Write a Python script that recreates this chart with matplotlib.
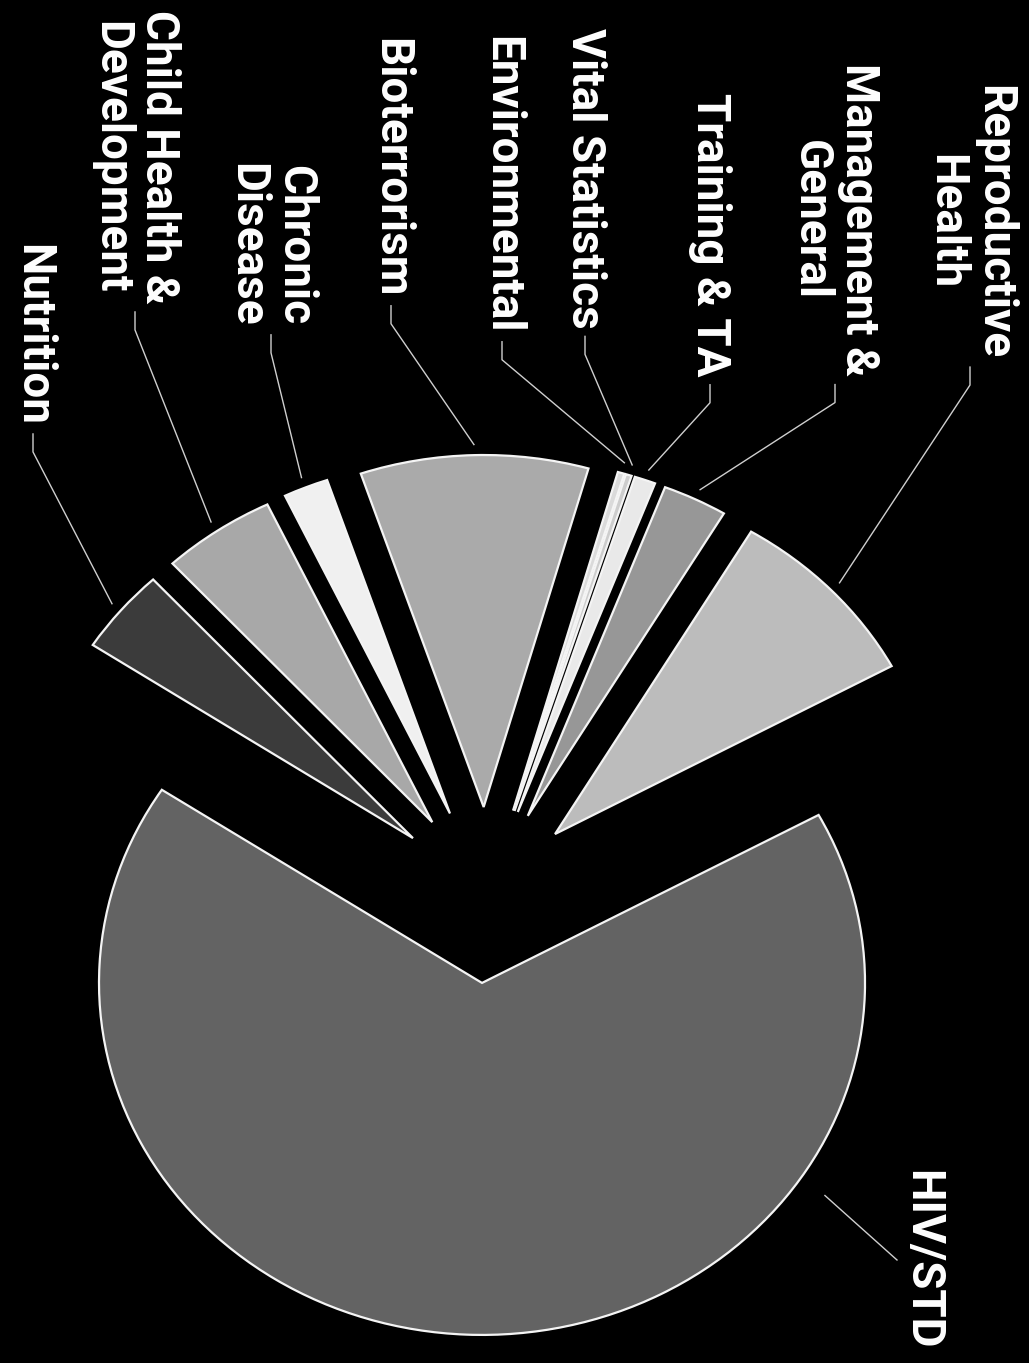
import numpy as np
import matplotlib.pyplot as plt

# Program areas, counter-clockwise from the start angle
programs = ["Reproductive\nHealth", "Management &\nGeneral", "Training & TA",
            "Vital Statistics", "Environmental", "Bioterrorism",
            "Chronic\nDisease", "Child Health &\nDevelopment", "Nutrition", "HIV/STD"]
shares = [8.53, 2.72, 0.89, 0.25, 0.28, 9.61, 1.89, 4.78, 3.89, 67.16]
shades = ["#bcbcbc", "#979797", "#e9e9e9", "#cdcdcd", "#dadada",
          "#aaaaaa", "#f0f0f0", "#a8a8a8", "#3b3b3b", "#636363"]

# Centre of each label block, in pixels from the top-left corner
label_px = [(970, 222), (835, 220), (710, 235), (585, 178), (502, 185),
            (391, 168), (271, 245), (135, 157), (33, 335), (922, 1260)]

W, H = 1029, 1363
CX, CY = 486, 895          # pie centre in pixels
SX, SY = 383, 352          # pixels per unit radius (the scan is squashed vertically)


def px(x, y):
    return (x - CX) / SX, (CY - y) / SY


fig = plt.figure(figsize=(W / 100, H / 100), dpi=100, facecolor="black")
ax = fig.add_axes([0, 0, 1, 1])
ax.set_facecolor("black")

wedges, _ = ax.pie(shares, explode=[0.25] * len(shares), startangle=28.5,
                   colors=shades,
                   wedgeprops=dict(edgecolor="#f4f4f4", linewidth=1.6))
ax.set_aspect("auto")
ax.set_xlim(px(0, 0)[0], px(W, 0)[0])
ax.set_ylim(px(0, H)[1], px(0, 0)[1])
ax.axis("off")

font = dict(family=["Roboto", "DejaVu Sans"], weight="bold",
            size=33, color="white")

labels = []
for name, (lx, ly) in zip(programs, label_px):
    t = ax.text(*px(lx, ly), name, rotation=270, ha="center", va="center",
                multialignment="center", linespacing=1.1, **font)
    labels.append(t)

fig.canvas.draw()
to_data = ax.transData.inverted()

for w, t in zip(wedges, labels):
    cx, cy = w.center
    bb = t.get_window_extent()
    if t.get_text() == "HIV/STD":
        # big slice: leader runs from the lower-right arc to the side of the label
        ang = np.deg2rad(-34)
        ex, ey = cx + 1.08 * np.cos(ang), cy + 1.08 * np.sin(ang)
        sx, sy = to_data.transform((bb.x0 - 3, (bb.y0 + bb.y1) / 2))
        ax.plot([sx, ex], [sy, ey], color="#cfcfcf", lw=1.0)
        continue
    ang = np.deg2rad((w.theta1 + w.theta2) / 2)
    ex, ey = cx + 1.03 * np.cos(ang), cy + 1.03 * np.sin(ang)
    # short hook under the text, then a straight leader to the arc
    mx = (bb.x0 + bb.x1) / 2
    hx0, hy0 = to_data.transform((mx, bb.y0 - 8))
    hx1, hy1 = to_data.transform((mx, bb.y0 - 26))
    ax.plot([hx0, hx1, ex], [hy0, hy1, ey], color="#cfcfcf", lw=1.0)

fig.savefig("out.png", dpi=100, facecolor="black")
